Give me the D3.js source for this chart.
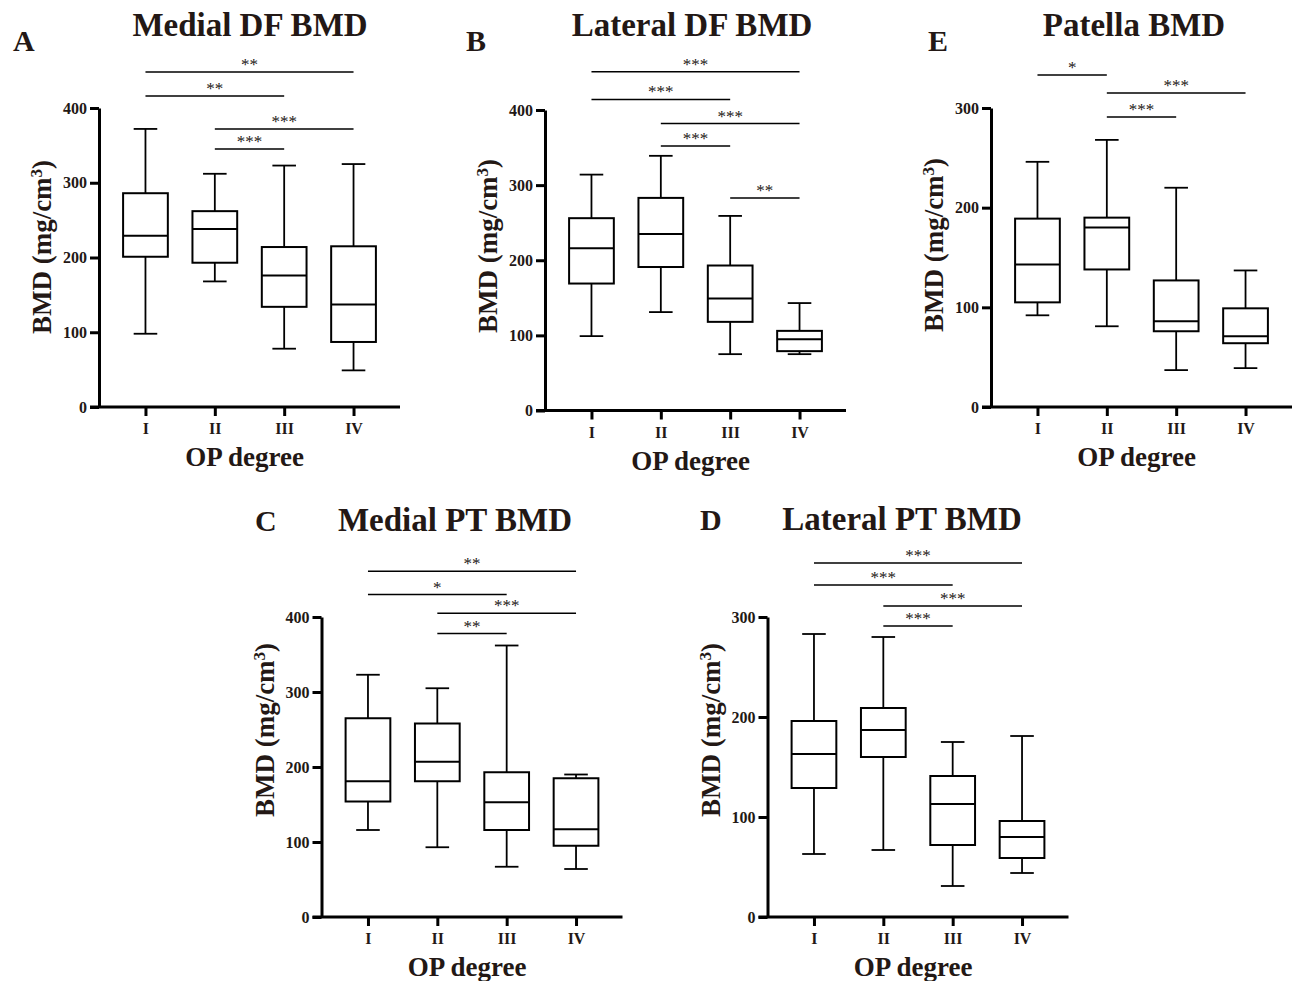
<!DOCTYPE html>
<html>
<head>
<meta charset="utf-8">
<script src="https://d3js.org/d3.v7.min.js"></script>
<style>
  body { margin: 0; background: #fff; }
  svg text { font-family: "Liberation Serif", "Times New Roman", serif; fill: #231815; }
  .ttl { font-weight: bold; font-size: 33px; }
  .letter { font-weight: bold; font-size: 30px; }
  .axlab { font-weight: bold; font-size: 27px; }
  .tick text { font-weight: bold; font-size: 16px; }
  .sig { font-size: 17px; }
</style>
</head>
<body>
<svg id="chart" width="1293" height="981"></svg>
<script>
// OP degree groups
var groups = ["I", "II", "III", "IV"];

// box values per group: [min, q1, median, q3, max]  (mg/cm3)
var medialDF  = [[98, 201, 229, 286, 372], [168, 193, 238, 262, 312], [78, 134, 176, 214, 323], [49, 87, 137, 215, 325]];
var lateralDF = [[99, 169, 216, 256, 314], [131, 191, 235, 283, 339], [75, 118, 149, 193, 259], [75, 79, 95, 106, 143]];
var patella   = [[92, 105, 143, 189, 246], [81, 138, 180, 190, 268], [37, 76, 86, 127, 220], [39, 64, 71, 99, 137]];
var medialPT  = [[116, 154, 181, 265, 323], [93, 181, 207, 258, 305], [67, 116, 153, 193, 362], [64, 95, 117, 185, 190]];
var lateralPT = [[63, 129, 163, 196, 283], [67, 160, 187, 209, 280], [31, 72, 113, 141, 175], [44, 59, 80, 96, 181]];

// significance brackets: [from, to, stars, level in mg/cm3]
var sigMedialDF  = [["I", "IV", "**", 448], ["I", "III", "**", 416], ["II", "IV", "***", 372], ["II", "III", "***", 345]];
var sigLateralDF = [["I", "IV", "***", 451], ["I", "III", "***", 414], ["II", "IV", "***", 382], ["II", "III", "***", 352], ["III", "IV", "**", 283]];
var sigPatella   = [["I", "II", "*", 333], ["II", "IV", "***", 315], ["II", "III", "***", 291]];
var sigMedialPT  = [["I", "IV", "**", 461], ["I", "III", "*", 430], ["II", "IV", "***", 405], ["II", "III", "**", 378]];
var sigLateralPT = [["I", "IV", "***", 354], ["I", "III", "***", 332], ["II", "IV", "***", 311], ["II", "III", "***", 291]];

var ticks400 = [0, 100, 200, 300, 400];
var ticks300 = [0, 100, 200, 300];

var panels = [
  {letter: "A", title: "Medial DF BMD",  data: medialDF,  sig: sigMedialDF,  ticks: ticks400,
   x0: 99, x1: 400, yTop: 108, yBot: 407, titleX: 250, titleY: 36, letterX: 13, letterY: 51, labY: 247},
  {letter: "B", title: "Lateral DF BMD", data: lateralDF, sig: sigLateralDF, ticks: ticks400,
   x0: 545, x1: 846, yTop: 110, yBot: 410.5, titleX: 692, titleY: 36, letterX: 466, letterY: 51, labY: 246},
  {letter: "E", title: "Patella BMD",    data: patella,   sig: sigPatella,   ticks: ticks300,
   x0: 991, x1: 1292, yTop: 108, yBot: 407, titleX: 1134, titleY: 36, letterX: 928, letterY: 51, labY: 245},
  {letter: "C", title: "Medial PT BMD",  data: medialPT,  sig: sigMedialPT,  ticks: ticks400,
   x0: 321.5, x1: 622.5, yTop: 617, yBot: 917, titleX: 455, titleY: 531, letterX: 255, letterY: 531, labY: 730},
  {letter: "D", title: "Lateral PT BMD", data: lateralPT, sig: sigLateralPT, ticks: ticks300,
   x0: 767.5, x1: 1068.5, yTop: 617, yBot: 917, titleX: 902, titleY: 530, letterX: 700, letterY: 530, labY: 730}
];

var svg = d3.select("#chart");

panels.forEach(function(p) {
  var g = svg.append("g");
  var ymax = p.ticks[p.ticks.length - 1];
  var y = d3.scaleLinear().domain([0, ymax]).range([p.yBot, p.yTop]);
  var x = d3.scalePoint().domain(groups).range([p.x0, p.x1]).padding(0.67);
  var step = x.step();
  var bw = step * 0.645, cw = step * 0.34;

  // letter + title
  g.append("text").attr("class", "letter").attr("x", p.letterX).attr("y", p.letterY).text(p.letter);
  g.append("text").attr("class", "ttl").attr("x", p.titleX).attr("y", p.titleY)
    .attr("text-anchor", "middle").text(p.title);

  // axes
  var ya = g.append("g").attr("transform", "translate(" + p.x0 + ",0)")
    .call(d3.axisLeft(y).tickValues(p.ticks).tickSize(9).tickSizeOuter(0).tickPadding(3));
  var xa = g.append("g").attr("transform", "translate(0," + p.yBot + ")")
    .call(d3.axisBottom(x).tickSize(9).tickSizeOuter(0).tickPadding(7));
  [ya, xa].forEach(function(a) {
    a.select(".domain").attr("stroke", "#000").attr("stroke-width", 3);
    a.selectAll(".tick line").attr("stroke", "#000").attr("stroke-width", 3);
  });
  xa.select(".domain").attr("d", "M" + (p.x0 - 9) + ",0H" + p.x1);

  // axis titles
  g.append("text").attr("class", "axlab").attr("text-anchor", "middle")
    .attr("x", (p.x0 + p.x1) / 2 - 5).attr("y", p.yBot + 59).text("OP degree");
  var yl = g.append("text").attr("class", "axlab").attr("text-anchor", "middle")
    .attr("transform", "translate(" + (p.x0 - 48) + "," + p.labY + ") rotate(-90)");
  yl.append("tspan").text("BMD (mg/cm");
  yl.append("tspan").attr("baseline-shift", "super").style("font-size", "17px").text("3");
  yl.append("tspan").text(")");

  // boxes
  var b = g.selectAll("g.box").data(p.data).enter().append("g").attr("class", "box")
    .attr("transform", function(d, i) { return "translate(" + x(groups[i]) + ",0)"; });
  b.append("line").attr("y1", function(d) { return y(d[0]); }).attr("y2", function(d) { return y(d[1]); })
    .attr("stroke", "#000").attr("stroke-width", 1.8);
  b.append("line").attr("y1", function(d) { return y(d[3]); }).attr("y2", function(d) { return y(d[4]); })
    .attr("stroke", "#000").attr("stroke-width", 1.8);
  b.selectAll("line.cap").data(function(d) { return [d[0], d[4]]; }).enter().append("line").attr("class", "cap")
    .attr("x1", -cw / 2).attr("x2", cw / 2)
    .attr("y1", function(v) { return y(v); }).attr("y2", function(v) { return y(v); })
    .attr("stroke", "#000").attr("stroke-width", 1.8);
  b.append("rect").attr("x", -bw / 2).attr("width", bw)
    .attr("y", function(d) { return y(d[3]); })
    .attr("height", function(d) { return y(d[1]) - y(d[3]); })
    .attr("fill", "#fff").attr("stroke", "#000").attr("stroke-width", 2);
  b.append("line").attr("x1", -bw / 2).attr("x2", bw / 2)
    .attr("y1", function(d) { return y(d[2]); }).attr("y2", function(d) { return y(d[2]); })
    .attr("stroke", "#000").attr("stroke-width", 2);

  // significance brackets
  var s = g.selectAll("g.sig").data(p.sig).enter().append("g");
  s.append("line").attr("x1", function(d) { return x(d[0]); }).attr("x2", function(d) { return x(d[1]); })
    .attr("y1", function(d) { return y(d[3]); }).attr("y2", function(d) { return y(d[3]); })
    .attr("stroke", "#000").attr("stroke-width", 1.5);
  s.append("text").attr("class", "sig").attr("text-anchor", "middle")
    .attr("x", function(d) { return (x(d[0]) + x(d[1])) / 2; })
    .attr("y", function(d) { return y(d[3]) - 2; })
    .text(function(d) { return d[2]; });
});
</script>
</body>
</html>
